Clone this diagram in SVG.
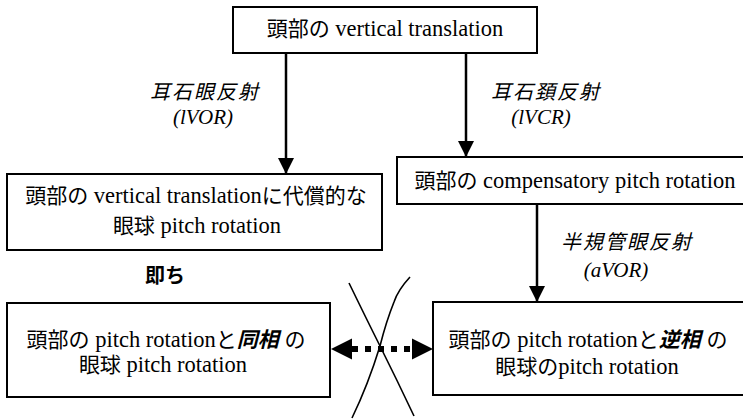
<svg xmlns="http://www.w3.org/2000/svg" width="743" height="420" viewBox="0 0 743 420">
<style>
.box{fill:#fff;stroke:#000;stroke-width:2}
.jp{font-family:"Noto Sans CJK JP","Noto Sans",sans-serif;font-size:21px}
.en{font-family:"Liberation Serif","Times New Roman",serif;font-size:22.5px}
.t{fill:#000;text-anchor:middle}
.lbj{font-family:"Noto Sans CJK JP","Noto Sans",sans-serif;font-size:20px;font-style:italic;letter-spacing:2px}
.lbe{font-family:"Liberation Serif","Times New Roman",serif;font-size:21px;font-style:italic}
.bi{font-weight:bold;font-style:italic}
.conn{stroke:#000;stroke-width:2.5;fill:none}
.dash{stroke:#000;stroke-width:6;stroke-dasharray:6 7;fill:none}
.x{stroke:#000;stroke-width:1.6;fill:none}
.head{fill:#000}
</style>
<defs>
<marker id="ah" markerUnits="userSpaceOnUse" markerWidth="16" markerHeight="18" refX="16" refY="8" orient="auto">
<path d="M0,0 L16,8 L0,16 Z" fill="#000"/>
</marker>
</defs>
<rect width="743" height="420" fill="#fff"/>

<g id="connectors">
<line class="conn" x1="286" y1="53" x2="286" y2="174" marker-end="url(#ah)"/>
<line class="conn" x1="466" y1="53" x2="466" y2="157" marker-end="url(#ah)"/>
<line class="conn" x1="537" y1="204" x2="537" y2="302" marker-end="url(#ah)"/>
<line class="dash" x1="352" y1="349" x2="412" y2="349"/>
<path class="head" d="M331,349 L352,338.5 L352,359.5 Z"/>
<path class="head" d="M433,349 L412,338.5 L412,359.5 Z"/>
<path class="x" d="M349,283 Q366,318 380,346 Q397,380 414,416"/>
<path class="x" d="M410,277 Q398,290 394,302 Q386,322 380,346 Q368,385 352,418"/>
<text class="t" x="205" y="99"><tspan class="lbj">耳石眼反射</tspan></text>
<text class="t" x="203" y="124"><tspan class="lbe">(lVOR)</tspan></text>
<text class="t" x="546" y="99"><tspan class="lbj">耳石頚反射</tspan></text>
<text class="t" x="541" y="124"><tspan class="lbe">(lVCR)</tspan></text>
<text class="t" x="627" y="249"><tspan class="lbj">半規管眼反射</tspan></text>
<text class="t" x="616" y="277"><tspan class="lbe">(aVOR)</tspan></text>
</g>

<g id="n1">
<rect class="box" x="233" y="7" width="304" height="46"/>
<text class="t" x="385" y="36"><tspan class="jp">頭部の</tspan><tspan class="en"> vertical translation</tspan></text>
</g>

<g id="n2">
<rect class="box" x="7" y="174" width="375" height="76"/>
<text class="t" x="196" y="203"><tspan class="jp">頭部の</tspan><tspan class="en"> vertical translation</tspan><tspan class="jp">に代償的な</tspan></text>
<text class="t" x="197" y="233"><tspan class="jp">眼球</tspan><tspan class="en"> pitch rotation</tspan></text>
</g>

<g id="n3">
<rect class="box" x="397" y="157" width="360" height="47"/>
<text class="t" x="575" y="188"><tspan class="jp">頭部の</tspan><tspan class="en"> compensatory pitch rotation</tspan></text>
</g>

<g id="n_sokuchi">
<text class="t" x="165" y="283" font-family="'Noto Sans CJK JP','Noto Sans',sans-serif" font-size="20" font-weight="bold">即ち</text>
</g>

<g id="n4">
<rect class="box" x="7" y="303" width="323" height="94"/>
<text class="t" x="166" y="347"><tspan class="jp">頭部の</tspan><tspan class="en"> pitch rotation</tspan><tspan class="jp">と</tspan><tspan class="jp bi">同相</tspan><tspan class="en"> </tspan><tspan class="jp">の</tspan></text>
<text class="t" x="163" y="372"><tspan class="jp">眼球</tspan><tspan class="en"> pitch rotation</tspan></text>
</g>

<g id="n5">
<rect class="box" x="433" y="302" width="320" height="93"/>
<text class="t" x="588" y="347"><tspan class="jp">頭部の</tspan><tspan class="en"> pitch rotation</tspan><tspan class="jp">と</tspan><tspan class="jp bi">逆相</tspan><tspan class="en"> </tspan><tspan class="jp">の</tspan></text>
<text class="t" x="587" y="374"><tspan class="jp">眼球の</tspan><tspan class="en">pitch rotation</tspan></text>
</g>
</svg>
